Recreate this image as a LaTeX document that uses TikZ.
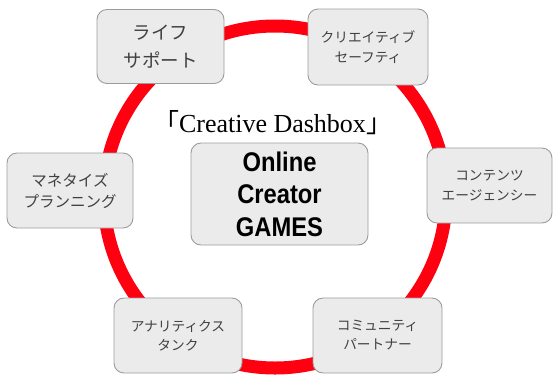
\documentclass[tikz,border=0pt]{standalone}
\usepackage{fontspec}
\newfontfamily\jp{Noto Sans CJK JP}
\newfontfamily\bigsans{Liberation Sans}[FakeStretch=0.88]
\newfontfamily\serifL{Liberation Serif}
\definecolor{ringred}{HTML}{FF0010}
\definecolor{boxfill}{HTML}{EBEBEB}
\definecolor{boxline}{HTML}{9C9C9C}
\definecolor{txt}{HTML}{404040}
\tikzset{
  card/.style={draw=boxline, line width=0.9pt, fill=boxfill, rounded corners=10pt,
    inner sep=0pt, align=center, text=txt, font=\jp},
  ring/.style={draw=ringred, line width=13pt}
}
\begin{document}
\begin{tikzpicture}[x=1pt,y=-1pt]
\useasboundingbox (0,0) rectangle (554,376);
\draw[ring] (275,197) circle[radius=171];
\node[card, minimum width=127, minimum height=74,
  font=\jp\fontsize{18.5}{28}\selectfont] (life) at (160.5,46.5) {ライフ\\サポート};
\node[card, minimum width=120, minimum height=76,
  font=\jp\fontsize{13.7}{20}\selectfont] (safe) at (368,47) {クリエイティブ\\セーフティ};
\node[card, minimum width=126, minimum height=75,
  font=\jp\fontsize{15.5}{21}\selectfont] (money) at (70,190.5) {マネタイズ\\プランニング};
\node[card, minimum width=125, minimum height=75,
  font=\jp\fontsize{13.7}{20}\selectfont] (agency) at (489.5,185.5) {コンテンツ\\エージェンシー};
\node[card, minimum width=128, minimum height=75,
  font=\jp\fontsize{13.7}{19}\selectfont] (tank) at (178,335.5) {アナリティクス\\タンク};
\node[card, minimum width=129, minimum height=75,
  font=\jp\fontsize{13.7}{19}\selectfont] (partner) at (377.5,335.5) {コミュニティ\\パートナー};
\node[card, minimum width=177, minimum height=102, text=black,
  font=\bigsans\bfseries\fontsize{27}{32.5}\selectfont] (core) at (279.5,194) {Online\\Creator\\GAMES};
\node[inner sep=0pt, text=black, font=\fontsize{26}{30}\selectfont] (title) at (272.5,123)
  {{\jp 「}{\serifL Creative Dashbox}{\jp 」}};
\end{tikzpicture}
\end{document}
